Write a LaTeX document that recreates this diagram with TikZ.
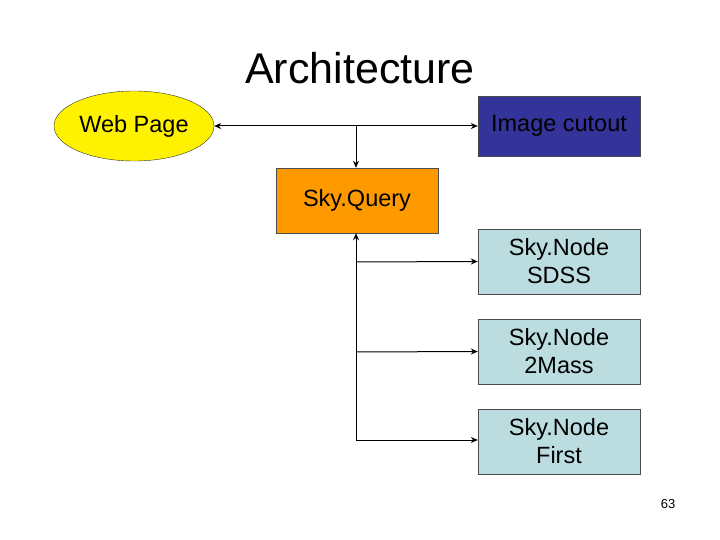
\documentclass[tikz,border=0pt]{standalone}
\usepackage{fontspec}
\setmainfont{Liberation Sans}
\usetikzlibrary{shapes.geometric,arrows.meta}
\begin{document}
\begin{tikzpicture}[x=1pt,y=-1pt,
  box/.style={draw=black!70,minimum width=162pt,minimum height=65pt,font=\fontsize{23.5}{28}\selectfont,align=center,inner sep=0pt},
  ar/.style={-{Stealth[length=7pt,width=6pt]},line width=1pt}]
\useasboundingbox (0,0) rectangle (720,540);
\node (title) at (360,68) {\fontsize{43}{48}\selectfont Architecture};
\node[ellipse,draw=black!80,fill=yellow,minimum width=160pt,minimum height=70pt,inner sep=0pt,font=\fontsize{23.5}{28}\selectfont] (web) at (134,126) {Web Page};
\node[box,fill={rgb,255:red,51;green,51;blue,153},minimum height=60pt] (img) at (559,126) {Image cutout};
\node[box,fill={rgb,255:red,255;green,153;blue,0}] (sq) at (357,200.5) {Sky.Query};
\node[box,fill={rgb,255:red,187;green,221;blue,224}] (n1) at (559,261.5) {Sky.Node\\SDSS};
\node[box,fill={rgb,255:red,187;green,221;blue,224}] (n2) at (559,351.5) {Sky.Node\\2Mass};
\node[box,fill={rgb,255:red,187;green,221;blue,224}] (n3) at (559,441.5) {Sky.Node\\First};
\node[font=\fontsize{13}{15}\selectfont] (pg) at (668,504) {63};
\coordinate (j) at (356,126);
\coordinate (b) at (356,440);
\draw[ar,{Stealth[length=7pt,width=6pt]}-{Stealth[length=7pt,width=6pt]}] (web.east) -- (img.west);
\draw[ar] (j) -- (sq.north -| j);
\draw[ar] (b) -- (sq.south -| b);
\draw[ar] (356,262) -- (n1.west);
\draw[ar] (356,352) -- (n2.west);
\draw[ar] (b) -- (b -| n3.west);
\end{tikzpicture}
\end{document}
